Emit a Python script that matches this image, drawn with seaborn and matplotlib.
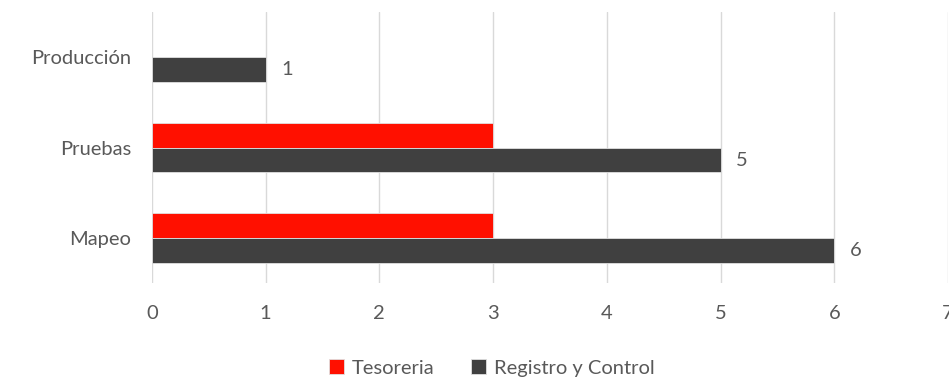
import pandas as pd
import numpy as np
import matplotlib.pyplot as plt
import seaborn as sns

categorias = ['Producción', 'Pruebas', 'Mapeo']
tesoreria = [np.nan, 3, 3]
registro = [1, 5, 6]
series = ['Tesoreria', 'Registro y Control']
colores = ['#ff1000', '#404040']

df = pd.DataFrame({
    'categoria': categorias * 2,
    'valor': tesoreria + registro,
    'serie': [series[0]] * 3 + [series[1]] * 3,
})

sns.set_style('white')
plt.rcParams['font.family'] = ['Lato', 'DejaVu Sans']
gris = '#595959'
fs = 14.5

fig = plt.figure(figsize=(9.49, 3.79), dpi=100)
ax = fig.add_axes([0.160, 0.253, 0.839, 0.715])

sns.barplot(data=df, y='categoria', x='valor', hue='serie', order=categorias,
            hue_order=series, palette=colores, orient='h', width=0.55,
            saturation=1, ax=ax, legend=True, edgecolor='#e0e0e0', linewidth=0.6)

# etiquetas solo para Registro y Control
ax.bar_label(ax.containers[1], labels=[str(v) for v in registro],
             padding=11, fontsize=fs, color=gris)

ax.set_xlim(0, 7)
ax.set_ylim(2.5, -0.5)
ax.set_xticks(range(0, 8))
ax.xaxis.grid(True, color='#d9d9d9', linewidth=1)
ax.set_axisbelow(True)
for s in ax.spines.values():
    s.set_visible(False)
ax.set_xlabel('')
ax.set_ylabel('')
ax.tick_params(axis='both', length=0, labelsize=fs, labelcolor=gris)
ax.tick_params(axis='x', pad=16)
ax.tick_params(axis='y', pad=15)

ax.legend(loc='upper center', bbox_to_anchor=(0.427, -0.215), ncol=2, frameon=False,
          fontsize=fs, labelcolor=gris, handlelength=0.75, handleheight=0.75,
          handletextpad=0.4, columnspacing=1.8)

fig.savefig('out.png', dpi=100)
